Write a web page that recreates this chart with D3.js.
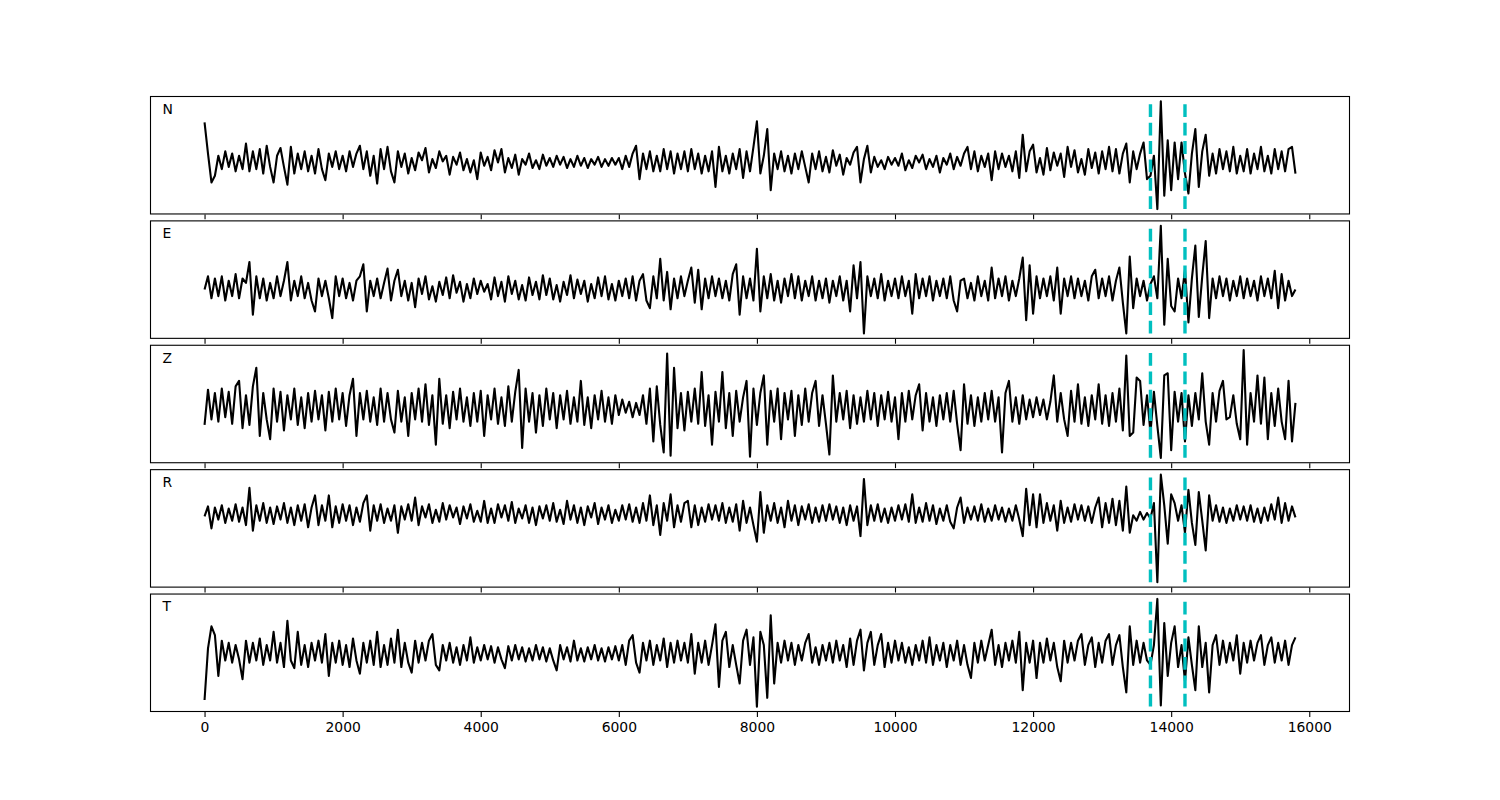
<!DOCTYPE html>
<html>
<head>
<meta charset="utf-8">
<script src="https://cdn.jsdelivr.net/npm/d3@7/dist/d3.min.js"></script>
<style>
  body { margin: 0; background: #fff; }
  text { font-family: "DejaVu Sans", sans-serif; }
</style>
</head>
<body>
<div id="chart"></div>
<script>
// Component labels and the two pick times (dashed lines)
const labels = ["N", "E", "Z", "R", "T"];
const picks = [13700, 14200];
const sampleStep = 50;   // one value every 50 samples
const xTicks = [0, 2000, 4000, 6000, 8000, 10000, 12000, 14000, 16000];

// Traces (relative amplitude, 317 values each)
const traceN = [
  36, 8, -18, -12, 6, -6, 10, -4, 8, -8, 6, -6, 17, -8, 10, -6, 12, -10, 15, -4,
  -18, 6, 13, -4, -20, 14, -10, 8, -6, 10, -8, 6, -10, 12, -6, -16, 8, -4, 10, -6,
  6, -8, 10, -4, 8, 15, -6, 10, -12, 6, -19, 12, -6, 14, -8, -18, 10, -4, 8, -10,
  4, -7, 9, 2, 13, -9, 3, -5, 10, 1, 6, -11, 5, -2, 9, -7, 3, -9, 2, -15,
  9, -3, 5, -7, 11, 0, 12, -9, 4, -5, 7, -11, 3, -2, 8, -5, 2, -6, 7, -3,
  4, -4, 6, -2, 5, -5, 3, -4, 6, -3, 4, -5, 3, -2, 5, -4, 3, -3, 4, -2,
  4, -6, 6, -4, 8, 15, -15, 8, -6, 10, -8, 6, -8, 12, -6, 10, -10, 8, -6, 10,
  -8, 12, -6, 8, -10, 6, -8, 10, -22, 14, -8, 6, -10, 8, -6, 12, -14, 10, -8, 14,
  37, -10, 6, 30, -25, 8, -6, 10, -8, 6, -10, 8, -6, 10, -4, -18, 8, -6, 10, -8,
  5, -9, 11, -3, 7, -11, 4, -2, 9, 14, -18, 3, 15, -9, 5, -4, 2, -6, 5, -2,
  4, -3, 8, -7, 2, -5, 6, 0, 7, -6, 3, -4, 6, -9, 4, -2, 8, -6, 5, -3,
  8, 14, -6, 10, -8, 6, -4, 8, -16, 10, -6, 8, -4, 6, -8, 10, -14, 25, -8, 10,
  16, -9, 4, -11, 13, -7, 9, -3, 8, -13, 14, -4, 11, -9, 3, -11, 12, -5, 9, -10,
  10, -6, 14, -8, 12, -10, 8, 17, -18, 10, -6, 8, 18, -15, -12, 6, -42, 55, -30, 20,
  -25, 18, -15, 18, -10, -28, 8, 30, -22, 10, 25, -12, 8, -10, 12, -6, 10, -8, 14, -10,
  6, -8, 12, -10, 8, -6, 14, -8, 6, -10, 12, -6, 10, -8, 12, 14, -10
];

const traceE = [
  0, 12, -8, 10, -6, 12, -10, 8, -6, 14, -8, 10, 6, 25, -23, 12, -8, 10, -10, 6,
  -8, 12, -6, 8, 25, -10, 8, -6, 12, -8, 6, -10, -20, 10, -6, 8, -8, -26, 12, -6,
  10, -8, 6, -10, 8, 12, 23, -20, 8, -6, 10, -8, 6, 19, -10, 8, 18, -6, 8, -10,
  6, -16, 10, -4, 12, -9, 3, -11, 7, -5, 11, -8, 13, -3, 7, -11, 5, -8, 10, -4,
  8, -2, 5, -9, 11, -6, 7, -11, 12, -4, 8, -9, 4, -10, 11, -5, 7, -9, 13, -5,
  10, -9, 4, -11, 7, -5, 13, -8, 9, -4, 8, -11, 5, -8, 11, -6, 12, -9, 5, -10,
  8, -6, 10, -8, 12, -10, 8, 14, -10, -17, 12, -8, 28, -10, 16, -18, 10, -8, 12, -6,
  8, 20, -12, 18, -18, 10, -8, 12, -6, 10, -8, 8, -10, 14, 23, -23, 12, -8, 10, -10,
  37, -20, 12, -8, 14, -10, 8, -12, 10, -6, 14, -8, 12, -10, 8, -6, 12, -10, 8, -8,
  10, -12, 8, -6, 12, -10, 8, -20, 22, -8, 25, -40, 12, -6, 10, -8, 14, -10, 8, -6,
  10, -8, 12, -6, 8, -22, 14, -8, 10, -6, 12, -10, 8, -6, 10, -8, 12, -10, -20, 8,
  10, -8, 6, -10, 12, -6, 8, -10, 20, -8, 10, -6, 12, -10, 8, -6, 10, 29, -28, 22,
  -22, 12, -8, 10, -6, 12, -10, 20, -22, 10, -6, 12, -8, 10, -6, 8, -10, 12, 18, -8,
  10, -6, 12, -10, 8, 20, -12, -40, 30, -17, 10, -6, 8, -10, 5, 12, -8, 58, -32, 28,
  -15, -20, 10, -8, 18, -30, 10, 40, -25, 12, 44, -26, 10, -8, 12, -6, 10, -10, 8, -6,
  12, -8, 10, -6, 8, -10, 12, -6, 10, -8, 17, -17, 14, -10, 8, -6, 0
];

const traceZ = [
  -15, 17, -10, 14, -12, 18, -8, 15, -14, 20, 25, -18, 12, -15, 20, 37, -25, 14, -10, -28,
  18, -12, 15, -20, 12, -10, 18, -15, 10, -18, 14, -12, 16, -10, 12, -20, 15, -12, 18, -10,
  14, -16, 12, 27, -25, 14, -10, 16, -12, 10, -15, 18, -12, 14, -10, -22, 16, -12, 10, -25,
  14, -10, 18, -12, 22, -15, 12, -33, 27, -14, 12, -18, 15, -10, 18, -12, 10, -16, 14, -12,
  16, -25, 12, -10, 18, -14, 10, -16, 20, -12, 15, 35, -36, 18, -12, 14, -22, 12, -16, 18,
  -10, 14, -18, 12, -10, 16, -14, 10, -12, 25, -15, 10, -18, 12, -10, 16, -12, 10, -14, 12,
  -6, 8, -4, 6, -8, 5, -6, 12, -14, 18, -30, 20, -15, -40, 50, -43, 37, -18, 14, -20,
  15, -12, 18, -14, 33, -16, 12, -33, 15, -12, 33, -18, 14, -25, 16, -12, 10, 25, -44, 18,
  -15, 14, 30, -33, 16, -12, 18, -28, 14, -10, 16, -25, 12, -15, 18, -12, 14, 25, -16, 12,
  -14, -42, 30, -12, 14, -10, 16, -18, 12, -14, 10, -12, 16, -10, 14, -16, 12, -10, 15, -12,
  10, -28, 14, -12, 16, -10, 12, 22, -20, 14, -12, 10, -16, 12, -10, 14, -12, 16, -14, -38,
  22, -14, 12, -16, 10, -12, 14, -10, 16, -12, 10, -40, 14, 25, -12, 10, -14, 12, -10, 8,
  -8, 10, -6, 8, -10, 6, 30, -12, 14, -10, -25, 16, -12, 22, -14, 10, -16, 12, -10, 22,
  -14, 12, -16, 14, -12, 18, -20, 48, -25, -22, 28, 25, -15, 12, -22, 15, -16, -45, 30, 32,
  -38, 15, -12, 14, -30, 12, -16, 14, -10, 32, -12, -33, 14, -12, 16, 25, -10, -8, 12, -14,
  -28, 53, -33, 14, -12, 30, -14, 28, -28, 14, -16, 18, -12, -28, 25, -30, 5
];

const traceR = [
  -2, 7, -13, 6, -5, 8, -8, 5, -6, 9, -7, 6, -10, 24, -15, 8, -6, 10, -8, 6,
  -9, 7, -5, 10, -8, 6, -10, 8, -6, 9, -12, 6, 17, -10, 8, -6, 17, -12, 7, -8,
  9, -6, 8, -10, 6, -7, 10, 17, -15, 8, -6, 9, -8, 5, -6, 8, -17, 7, -5, 9,
  -6, 15, -10, 7, -3, 9, -8, 4, -7, 10, -5, 8, -3, 6, -9, 7, -4, 9, -7, 3,
  -7, 12, -8, 5, -8, 9, -3, 8, -6, 11, -8, 5, -4, 8, -8, 6, -10, 7, -4, 8,
  -6, 10, -7, 4, -9, 12, -5, 8, -8, 6, -10, 7, -3, 10, -9, 6, -5, 8, -8, 4,
  -6, 8, -5, 9, -7, 6, -8, 10, -6, 17, -10, 8, -19, 10, -6, 18, -12, 8, -7, 10,
  12, -12, 8, -10, 6, -7, 9, -5, 8, -6, 10, -8, 6, -7, 9, -15, 12, -8, 6, -10,
  -25, 20, -17, 8, -6, 10, -8, 6, -12, 12, -6, 8, -10, 7, -5, 9, -8, 6, -7, 8,
  -6, 9, -5, 7, -8, 6, -10, 8, -6, 7, -20, 32, -10, 8, -6, 9, -7, 5, -8, 6,
  -6, 8, -5, 9, -7, 18, -8, 6, -7, 10, -6, 8, -9, 5, -6, 8, -7, -13, 6, 15,
  -8, 6, -5, 7, -6, 9, -7, 5, -6, 8, -5, 6, -7, 5, -6, 8, -5, -20, 23, -10,
  18, -12, 18, -8, 10, -6, 8, -15, 12, -8, 6, -7, 9, -5, 8, -6, 7, -8, 6, 15,
  -12, 10, -8, 14, -10, 12, -15, 25, -17, -1, -6, 2, -5, 1, -4, 10, -62, 36, 8, -27,
  18, 10, -6, 8, -17, 22, -8, -28, 20, -6, -33, 17, -6, 8, -7, 6, -8, 5, -6, 8,
  -5, 7, -6, 8, -7, 5, -8, 6, -6, 9, -5, 15, -8, 10, -6, 7, -3
];

const traceT = [
  -42, 5, 25, 17, -20, 12, -6, 10, -8, 8, -5, -23, 12, -8, 10, -6, 14, -10, 8, -6,
  20, -8, 10, -12, 30, -6, -13, 20, -10, 8, -12, 10, -6, 12, -8, 18, -20, 10, -8, 12,
  -10, 8, -12, 14, -6, -18, 10, -8, 12, -10, 20, -12, 8, -10, 14, -8, 22, -12, 10, -8,
  -17, 12, -8, 10, -6, 12, 18, -10, -15, 8, -6, 10, -8, 6, -10, 8, -6, 15, -8, 6,
  -6, 8, -5, 7, -8, 6, -5, -13, 7, -6, 8, -5, 6, -7, 5, -6, 8, -5, 6, -7,
  5, -6, -15, 8, -5, 6, -7, 12, -6, 5, -7, 6, -5, 8, -6, 5, -7, 6, -5, 7,
  -6, 8, -10, 12, 17, -8, -17, 10, -6, 12, -10, 8, -6, 14, -12, 10, -8, 12, -6, 10,
  -8, 18, -18, 10, -8, 12, -10, 8, 27, -30, 12, 20, -12, 8, -10, -27, 12, 22, -10, 15,
  -48, 20, 8, -40, 35, -27, 10, -8, 12, -6, 10, -10, 8, -6, 10, 18, -8, 6, -10, 8,
  -6, 10, -8, 12, -6, 8, -12, 14, -10, 12, 22, -15, 10, 20, -10, 8, 18, -12, 10, -8,
  12, -6, 10, -8, 6, -10, 8, -6, 12, -8, 15, -10, 8, -6, 10, -12, 8, -6, 12, -10,
  8, -10, -22, 10, -8, 12, -6, 8, 22, -10, 8, -12, 10, -6, 12, -8, 20, -33, 10, -8,
  12, -22, 10, -8, 14, -6, 10, -12, -25, 12, -8, 10, -6, 12, 18, -10, 8, 15, -12, 10,
  -8, 12, 18, -10, 8, 17, -12, -35, 25, -10, 12, -8, 10, -6, -10, 8, 50, -47, 28, -20,
  10, 25, -12, 8, -25, 15, -10, -33, 25, -12, 10, -35, 8, 17, -10, 12, -8, 10, -6, 17,
  -18, 10, -8, 12, -6, 10, 17, -10, 8, 15, -8, 10, -6, 12, -10, 8, 15
];

const traces = [traceN, traceE, traceZ, traceR, traceT];

// Layout
const W = 1500, H = 800;
const plotLeft = 150, plotRight = 1350, plotTop = 96, plotBottom = 712;
const hspace = 0.05;
const panelH = (plotBottom - plotTop) / (5 + 4 * hspace);
const gap = panelH * hspace;

const svg = d3.select("#chart")
  .append("svg")
    .attr("width", W)
    .attr("height", H)
    .style("background", "#fff");

const tMax = (traceN.length - 1) * sampleStep;
const pad = tMax * 0.05;
const x = d3.scaleLinear()
  .domain([-pad, tMax + pad])
  .range([plotLeft, plotRight]);

traces.forEach((vals, k) => {
  const y0 = plotTop + k * (panelH + gap);
  const y1 = y0 + panelH;
  const [lo, hi] = d3.extent(vals);
  const ypad = (hi - lo) * 0.05;
  const y = d3.scaleLinear()
    .domain([lo - ypad, hi + ypad])
    .range([y1, y0]);

  const g = svg.append("g");

  const line = d3.line()
    .x((d, i) => x(i * sampleStep))
    .y(d => y(d));

  g.append("path")
    .datum(vals)
    .attr("fill", "none")
    .attr("stroke", "#000")
    .attr("stroke-width", 2.1)
    .attr("stroke-linejoin", "round")
    .attr("d", line);

  // pick lines span the trace's min..max
  g.selectAll("line.pick")
    .data(picks)
    .enter().append("line")
      .attr("class", "pick")
      .attr("x1", d => x(d)).attr("x2", d => x(d))
      .attr("y1", y(lo)).attr("y2", y(hi))
      .attr("stroke", "#00bfbf")
      .attr("stroke-width", 3.4)
      .attr("stroke-dasharray", "12.8,5.6");

  // frame
  g.append("rect")
    .attr("x", plotLeft + 0.5)
    .attr("y", y0 + 0.5)
    .attr("width", plotRight - plotLeft - 1)
    .attr("height", panelH - 1)
    .attr("fill", "none")
    .attr("stroke", "#000")
    .attr("stroke-width", 1.1);

  // x axis ticks on every panel, labels only on the last one
  const axis = d3.axisBottom(x)
    .tickValues(xTicks)
    .tickSize(4.9)
    .tickPadding(4.9)
    .tickFormat(k === traces.length - 1 ? d3.format("d") : "");

  const ax = g.append("g")
    .attr("transform", `translate(0,${y1})`)
    .call(axis);
  ax.select(".domain").remove();
  ax.selectAll(".tick line").attr("stroke", "#000").attr("stroke-width", 1.1);
  ax.selectAll(".tick text")
    .attr("fill", "#000")
    .style("font-family", "'DejaVu Sans', sans-serif")
    .style("font-size", "13.9px");

  g.append("text")
    .attr("x", plotLeft + 0.01 * (plotRight - plotLeft) + 0.5)
    .attr("y", y1 - 0.85 * panelH)
    .attr("fill", "#000")
    .style("font-size", "13.9px")
    .text(labels[k]);
});
</script>
</body>
</html>
